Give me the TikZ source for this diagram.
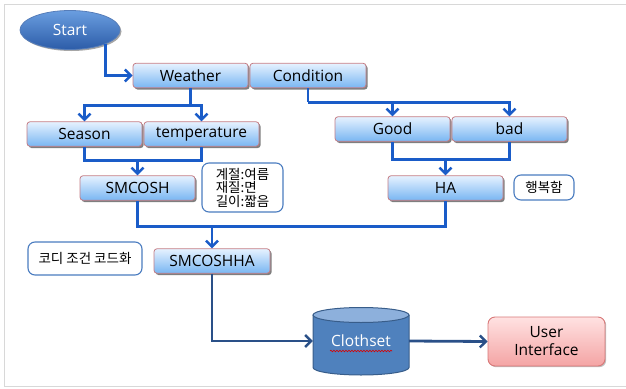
\documentclass[tikz,border=0pt]{standalone}
\usepackage{fontspec}
\setmainfont{Open Sans}
\newfontfamily\krfont{Noto Sans CJK KR}
\usetikzlibrary{arrows.meta,shadows,calc,decorations.pathmorphing,shapes.geometric}
\definecolor{boxborder}{HTML}{C47C84}
\definecolor{boxtop}{HTML}{E6F2FF}
\definecolor{boxbot}{HTML}{79B6F2}
\definecolor{arrblue}{HTML}{1A5CC8}
\definecolor{arrnavy}{HTML}{2A5088}
\definecolor{notebd}{HTML}{4A7CC0}
\definecolor{cylbody}{HTML}{4F81BD}
\definecolor{cyltop}{HTML}{8DB0DC}
\definecolor{cylbd}{HTML}{385D8A}
\definecolor{uitop}{HTML}{FFE2E2}
\definecolor{uibot}{HTML}{F4A4A4}
\definecolor{uibd}{HTML}{D87878}
\definecolor{starttop}{HTML}{6A9EE0}
\definecolor{startbot}{HTML}{2C5CA8}
\definecolor{framegray}{HTML}{D8D8D8}
\tikzset{
  boxnode/.style={rectangle, rounded corners=3pt, draw=boxborder, line width=0.8pt,
    top color=boxtop, bottom color=boxbot, minimum width=115pt, minimum height=24.5pt,
    inner sep=0pt, font=\fontsize{15.5}{18}\selectfont, text=black,
    drop shadow={shadow xshift=1.6pt, shadow yshift=-1.8pt, fill=black, opacity=.5}},
  notenode/.style={rectangle, rounded corners=7pt, draw=notebd, line width=1.1pt, fill=white,
    inner sep=0pt, align=center, text=black, font=\krfont\fontsize{13.5}{13.5}\selectfont},
  arr/.style={draw=arrblue, line width=2.8pt, -{Straight Barb[length=6pt,width=12pt,line width=2.4pt]}},
  ln/.style={draw=arrblue, line width=2.8pt},
  arrtwo/.style={draw=arrnavy, line width=2.8pt, -{Straight Barb[length=6pt,width=12pt,line width=2.4pt]}},
}
\begin{document}
\begin{tikzpicture}[x=1pt,y=-1pt]
\useasboundingbox (0,0) rectangle (626,388);
\draw[framegray, line width=1pt] (626,4.5) -- (4.5,4.5) -- (4.5,386.5) -- (626,386.5);

% start
\node[ellipse, minimum width=100pt, minimum height=39pt, draw=startbot!80, line width=0.8pt,
  top color=starttop, bottom color=startbot, text=white, font=\fontsize{15.5}{18}\selectfont,
  drop shadow={shadow xshift=1.5pt, shadow yshift=-1.5pt, fill=black, opacity=.35}] (start) at (70,30) {Start};

% boxes
\node[boxnode] (weather) at (190.5,75.5) {Weather};
\node[boxnode, minimum width=116pt] (condition) at (308,75.5) {Condition};
\node[boxnode] (season) at (84.5,134) {Season};
\node[boxnode] (temperature) at (201.5,134) {temperature};
\node[boxnode] (good) at (392.5,129) {Good};
\node[boxnode] (bad) at (509.5,129) {bad};
\node[boxnode] (smcosh) at (137.5,188) {SMCOSH};
\node[boxnode] (ha) at (445.5,188) {HA};
\node[boxnode, minimum width=116pt] (smcoshha) at (212,261) {SMCOSHHA};

% notes
\node[notenode, align=left, minimum width=81pt, minimum height=49pt] (note1) at (242.5,187.5) {계절:여름\\재질:면\\길이:짧음};
\node[notenode, minimum width=60pt, minimum height=25pt] (note2) at (544,187.5) {행복함};
\node[notenode, minimum width=114pt, minimum height=33pt] (note3) at (85,258.5) {코디 조건 코드화};

% cylinder
\fill[cylbody] (313,315) -- (313,367.5) arc[start angle=180, end angle=0, x radius=48, y radius=7.5] -- (409,315) -- cycle;
\draw[cylbd, line width=1pt] (313,315) -- (313,367.5) arc[start angle=180, end angle=0, x radius=48, y radius=7.5] -- (409,315);
\draw[cylbd, line width=1pt, fill=cyltop] (361,315) ellipse[x radius=48, y radius=7.5];
\node[rectangle, minimum width=96pt, minimum height=68pt, inner sep=0pt, text=white,
  font=\fontsize{15.5}{18}\selectfont] (clothset) at (361,341) {Clothset};
\draw[red!85!black, line width=0.6pt, decorate, decoration={snake, amplitude=0.8pt, segment length=3pt}]
  ($(clothset.center)+(-31,10)$) -- ($(clothset.center)+(31,10)$);

% user interface
\node[rectangle, rounded corners=7pt, draw=uibd, line width=0.9pt, top color=uitop, bottom color=uibot,
  minimum width=117pt, minimum height=49pt, align=center, font=\fontsize{15.5}{18}\selectfont, text=black,
  drop shadow={shadow xshift=1.2pt, shadow yshift=-1.2pt, fill=black, opacity=.25}] (ui) at (546.5,341.5) {User\\Interface};

% connectors
\draw[arr] (start.south east) |- (weather.west);

\coordinate (wj) at ($(weather.south)+(0,17)$);
\draw[ln] (weather.south) -- (wj);
\draw[arr] (wj) -| (season.north);
\draw[arr] (wj) -| (temperature.north);

\coordinate (cj) at ($(condition.south)+(0,14)$);
\draw[ln] (condition.south) -- (cj);
\draw[arr] (cj) -| (good.north);
\draw[arr] (cj) -| (bad.north);

\coordinate (sj) at ($(season.south)+(0,14)$);
\draw[ln] (season.south) -- (sj) -| (temperature.south);
\draw[arr] (smcosh.north |- sj) -- (smcosh.north);

\coordinate (gj) at ($(good.south)+(0,18)$);
\draw[ln] (good.south) -- (gj) -| (bad.south);
\draw[arr] (ha.north |- gj) -- (ha.north);

\coordinate (mj) at ($(smcosh.south)+(0,26)$);
\draw[ln] (smcosh.south) -- (mj) -| (ha.south);
\draw[arr] (smcoshha.north |- mj) -- (smcoshha.north);

\draw[arrtwo] (smcoshha.south) |- (clothset.west);
\draw[arrtwo] (clothset.east) -- (ui.west);
\end{tikzpicture}
\end{document}
